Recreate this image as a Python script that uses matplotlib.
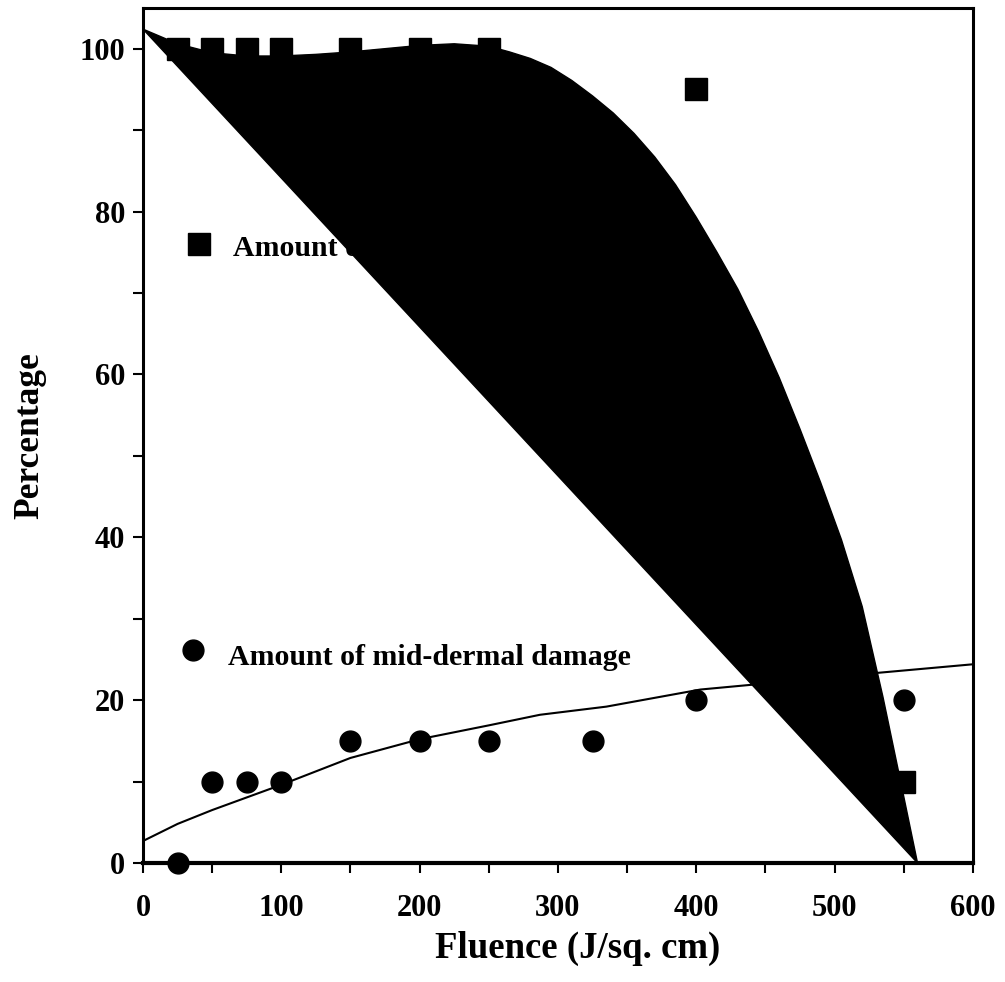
import matplotlib.pyplot as plt
from matplotlib.ticker import MultipleLocator

plt.rcParams['font.family'] = ['Liberation Serif', 'DejaVu Serif']
plt.rcParams['font.weight'] = 'bold'

# ---------- data ----------
fluence_sq = [25, 50, 75, 100, 150, 200, 250, 400, 550]
epidermal = [100, 100, 100, 100, 100, 100, 100, 95, 10]

fluence_ci = [25, 50, 75, 100, 150, 200, 250, 325, 400, 550]
middermal = [0, 10, 10, 10, 15, 15, 15, 15, 20, 20]

# fitted curve for squares (drawn as a closed filled shape in the original)
curve_x = [0, 25, 50, 75, 100, 125, 150, 175, 200, 225, 250, 265, 280, 295, 310, 325,
           340, 355, 370, 385, 400, 415, 430, 445, 460, 475, 490, 505, 520, 535, 550, 560]
curve_y = [102.4, 100.6, 99.5, 99.1, 99.1, 99.3, 99.6, 100.0, 100.4, 100.6, 100.3, 99.6,
           98.8, 97.7, 96.1, 94.2, 92.1, 89.6, 86.7, 83.3, 79.3, 75.0, 70.5, 65.3, 59.6,
           53.3, 46.7, 39.7, 31.5, 20.4, 8.2, 0]

# fitted curve for circles
fit_x = [0, 25, 50, 100, 150, 200, 250, 287, 335, 403, 460, 528, 600]
fit_y = [2.7, 4.8, 6.5, 9.6, 12.9, 15.2, 16.9, 18.2, 19.2, 21.3, 22.2, 23.3, 24.4]

fig = plt.figure(figsize=(10.05, 9.82), dpi=100)
ax = fig.add_axes([0.1423, 0.1212, 0.8257, 0.8707])

# legend-like labels placed inside the plot
ax.plot([40.5], [76], 's', color='black', markersize=15.5, zorder=1)
ax.text(65, 75.5, 'Amount of epidermal damage', fontsize=21.5, fontweight='bold',
        va='center', ha='left', zorder=1)
ax.plot([36], [26.2], 'o', color='black', markersize=15, zorder=1)
ax.text(61.5, 25.2, 'Amount of mid-dermal damage', fontsize=21.5, fontweight='bold',
        va='center', ha='left', zorder=1)

ax.fill(curve_x, curve_y, color='black', zorder=2)
ax.plot(fit_x, fit_y, color='black', linewidth=1.5, zorder=2)

ax.plot(fluence_sq, epidermal, 's', color='black', markersize=15.5, zorder=3, clip_on=False)
ax.plot(fluence_ci, middermal, 'o', color='black', markersize=15, zorder=3, clip_on=False)

ax.set_xlim(0, 600)
ax.set_ylim(0, 105)
ax.set_xticks([0, 100, 200, 300, 400, 500, 600])
ax.set_yticks([0, 20, 40, 60, 80, 100])
ax.xaxis.set_minor_locator(MultipleLocator(50))
ax.yaxis.set_minor_locator(MultipleLocator(10))
ax.tick_params(which='both', direction='out', length=7, width=1.5, top=False, right=False)
ax.tick_params(axis='x', labelsize=22, pad=15)
ax.tick_params(axis='y', labelsize=22, pad=6)
for lab in ax.get_xticklabels() + ax.get_yticklabels():
    lab.set_fontweight('bold')

for s in ax.spines.values():
    s.set_linewidth(2.2)
ax.spines['bottom'].set_linewidth(3)

ax.set_xlabel('Fluence (J/sq. cm)', fontsize=26.5, fontweight='bold', va='center')
ax.xaxis.set_label_coords(0.524, -0.1)
ax.set_ylabel('Percentage', fontsize=25.5, fontweight='bold', va='center')
ax.yaxis.set_label_coords(-0.136, 0.50)

fig.savefig('out.png', dpi=100)
